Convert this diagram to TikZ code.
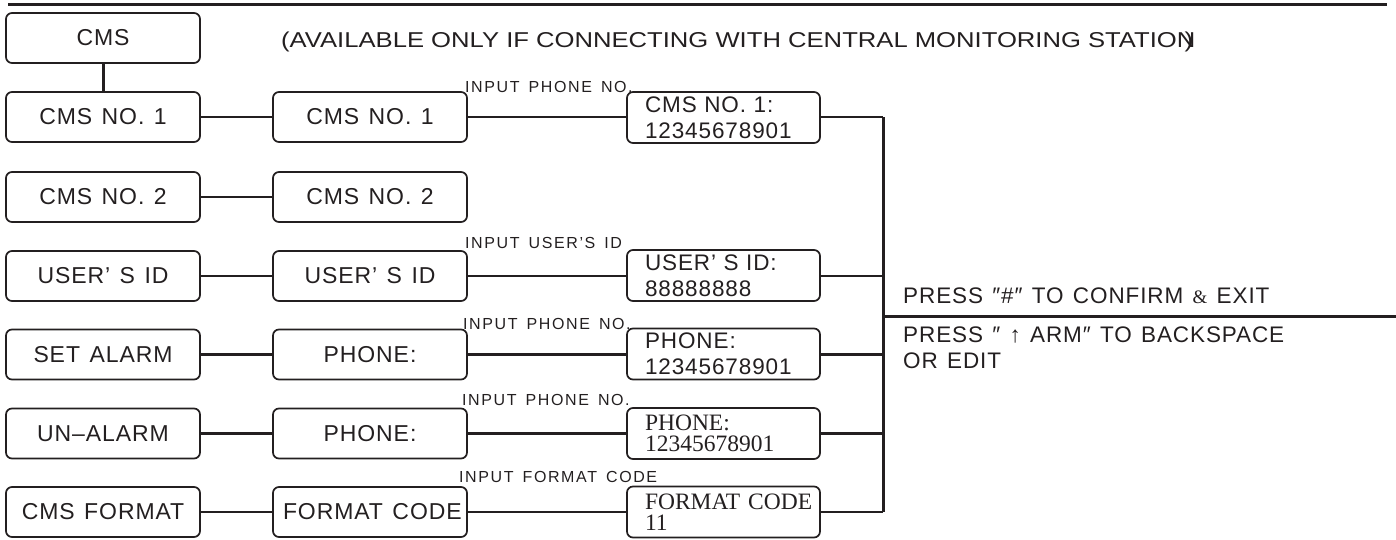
\documentclass[tikz,border=0pt]{standalone}
\usepackage{fontspec}
\usepackage{graphicx}
\setmainfont{Liberation Sans}
\newfontfamily\boxfont[LetterSpace=4,WordSpace=1.3]{Liberation Sans}
\newfontfamily\lblfont[LetterSpace=10,WordSpace=1.5]{Liberation Sans}
\newfontfamily\seriffont{Liberation Serif}
\definecolor{ink}{RGB}{35,31,32}
\begin{document}
\begin{tikzpicture}[x=1pt,y=-1pt,
  every node/.style={text=ink},
  box/.style={draw=ink, line width=1.7pt, rounded corners=6pt, minimum width=194pt,
    minimum height=50pt, inner sep=0pt, font=\boxfont\fontsize{23}{26}\selectfont},
  rbox/.style={draw=ink, line width=1.7pt, rounded corners=6pt, minimum width=193pt,
    minimum height=51pt, inner xsep=18pt, inner ysep=0pt, text width=157pt, align=left},
  sansrbox/.style={rbox, font=\boxfont\fontsize{22.5}{26}\selectfont},
  serifrbox/.style={rbox, font=\seriffont\fontsize{23.5}{21.5}\selectfont},
  lbl/.style={anchor=base west, inner sep=0pt, font=\lblfont\fontsize{16}{18}\selectfont},
  note/.style={anchor=base west, inner sep=0pt, font=\boxfont\fontsize{22.5}{26}\selectfont},
  conn/.style={draw=ink, line width=2.3pt},
  bus/.style={draw=ink, line width=3pt}
]
\useasboundingbox (0,0) rectangle (1396,539);

% top rule
\coordinate (tl) at (8,4);
\coordinate (tr) at (1387,4);
\draw[bus] (tl) -- (tr);

% header
\node[anchor=base west, inner sep=0pt, font=\fontsize{21.5}{26}\selectfont] (hdr) at (281,47)
  {\resizebox{912pt}{\height}{(AVAILABLE ONLY IF CONNECTING WITH CENTRAL MONITORING STATION\kern-9pt)}};

% column 1
\node[box] (a0) at (103,38) {CMS};
\node[box] (a1) at (103,117) {CMS NO. 1};
\node[box] (a2) at (103,197) {CMS NO. 2};
\node[box] (a3) at (103,276) {USER’ S ID};
\node[box] (a4) at (103,354.5) {SET ALARM};
\node[box] (a5) at (103,433.5) {UN–ALARM};
\node[box] (a6) at (103,512) {CMS FORMAT};

% column 2
\node[box] (b1) at (370,117) {CMS NO. 1};
\node[box] (b2) at (370,197) {CMS NO. 2};
\node[box] (b3) at (370,276) {USER’ S ID};
\node[box] (b4) at (370,354.5) {PHONE:};
\node[box] (b5) at (370,433.5) {PHONE:};
\node[box, inner xsep=10pt] (b6) at (370,512) {\makebox[174pt][l]{FORMAT CODE}};

% column 3
\node[sansrbox] (c1) at (723.5,117.5) {CMS NO. 1:\\12345678901};
\node[sansrbox] (c3) at (723.5,275.5) {USER’ S ID:\\88888888};
\node[sansrbox] (c4) at (723.5,354) {PHONE:\\12345678901};
\node[serifrbox] (c5) at (723.5,433.5) {PHONE:\\12345678901};
\node[serifrbox] (c6) at (723.5,512) {\mbox{FORMAT CODE}\\11};

% labels
\node[lbl] (l1) at (465,92) {INPUT PHONE NO.};
\node[lbl] (l3) at (465,248) {INPUT USER’S ID};
\node[lbl] (l4) at (463,329) {INPUT PHONE NO.};
\node[lbl] (l5) at (462,405) {INPUT PHONE NO.};
\node[lbl] (l6) at (459,482) {INPUT FORMAT CODE};

% connectors
\draw[draw=ink, line width=3pt] (a0.south) -- (a1.north);
\foreach \r in {1,2,3,4,5,6} { \draw[conn] (a\r.east) -- (b\r.west); }
\foreach \r in {1,3,4,5,6} { \draw[conn] (b\r.east) -- (b\r.east -| c\r.west); }

% bus
\coordinate (bt) at (883,117);
\coordinate (bb) at (883,512);
\draw[bus] (bt) -- (bb);
\foreach \r in {1,3,4,5,6} { \draw[conn] (b\r.east -| c\r.east) -- (b\r.east -| bt); }
\coordinate (ex) at (883,316);
\coordinate (er) at (1396,316);
\draw[bus] (ex) -- (er);

% notes
\node[note] (n1) at (903,303) {PRESS ″\#″ TO CONFIRM {\seriffont\fontsize{19}{20}\selectfont\&} EXIT};
\node[note] (n2) at (903,342) {PRESS ″ ↑ ARM″ TO BACKSPACE};
\node[note] (n3) at (903,368) {OR EDIT};
\end{tikzpicture}
\end{document}
